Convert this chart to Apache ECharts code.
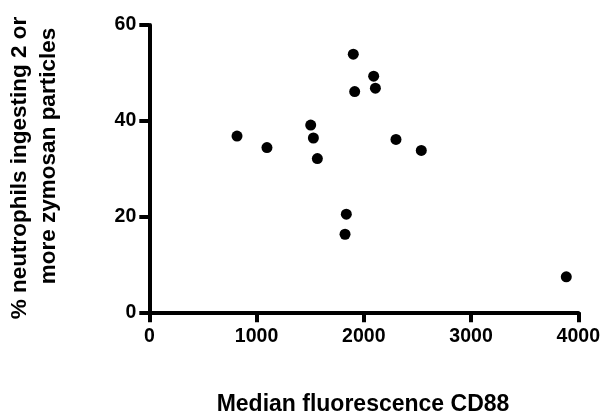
<!DOCTYPE html>
<html>
<head>
<meta charset="utf-8">
<script src="https://cdn.jsdelivr.net/npm/echarts@6/dist/echarts.min.js"></script>
<style>html,body{margin:0;padding:0;background:#fff}#c{width:606px;height:418px}</style>
</head>
<body>
<div id="c"></div>
<script>
var medianCD88 = [818, 1097, 1505, 1530, 1567, 1837, 1825, 1902, 1915, 2092, 2108, 2300, 2536, 3888];
var pctIngesting = [36.8, 34.4, 39.1, 36.4, 32.1, 20.5, 16.3, 53.9, 46.1, 49.3, 46.8, 36.1, 33.8, 7.4];
var xTitle = 'Median fluorescence CD88';
var yTitleLines = ['% neutrophils ingesting 2 or', 'more zymosan particles'];

var FONT = '"Liberation Sans", Arial, Helvetica, sans-serif';
var points = medianCD88.map(function (x, i) { return [x, pctIngesting[i]]; });

var chart = echarts.init(document.getElementById('c'), null, {renderer: 'canvas'});
chart.setOption({
  animation: false,
  backgroundColor: '#fff',
  grid: {left: 149.3, right: 27.7, top: 25, bottom: 105.7, containLabel: false},
  xAxis: {
    type: 'value', min: 0, max: 4000, interval: 1000,
    splitLine: {show: false},
    axisLine: {show: true, onZero: false, lineStyle: {color: '#000', width: 4}},
    axisTick: {show: true, length: 10, lineStyle: {color: '#000', width: 4}},
    axisLabel: {color: '#000', fontSize: 19.5, fontWeight: 'bold', fontFamily: FONT, margin: 14,
      formatter: function (v) { return String(v); }}
  },
  yAxis: {
    type: 'value', min: 0, max: 60, interval: 20,
    splitLine: {show: false},
    axisLine: {show: true, onZero: false, lineStyle: {color: '#000', width: 4}},
    axisTick: {show: true, length: 10, lineStyle: {color: '#000', width: 4}},
    axisLabel: {color: '#000', fontSize: 19.5, fontWeight: 'bold', fontFamily: FONT, margin: 13,
      formatter: function (v) { return String(v); }}
  },
  graphic: [
    {type: 'text', x: 363, y: 405, style: {text: xTitle, fill: '#000', font: 'bold 23px ' + FONT, textAlign: 'center', textVerticalAlign: 'middle'}},
    {type: 'text', x: 20, y: 168, rotation: Math.PI / 2, style: {text: yTitleLines[0], fill: '#000', font: 'bold 22.5px ' + FONT, textAlign: 'center', textVerticalAlign: 'middle'}},
    {type: 'text', x: 49, y: 156, rotation: Math.PI / 2, style: {text: yTitleLines[1], fill: '#000', font: 'bold 22.5px ' + FONT, textAlign: 'center', textVerticalAlign: 'middle'}}
  ],
  series: [{
    type: 'scatter',
    data: points,
    symbol: 'circle',
    symbolSize: 11,
    itemStyle: {color: '#000', opacity: 1},
    silent: true
  }]
});
</script>
</body>
</html>
